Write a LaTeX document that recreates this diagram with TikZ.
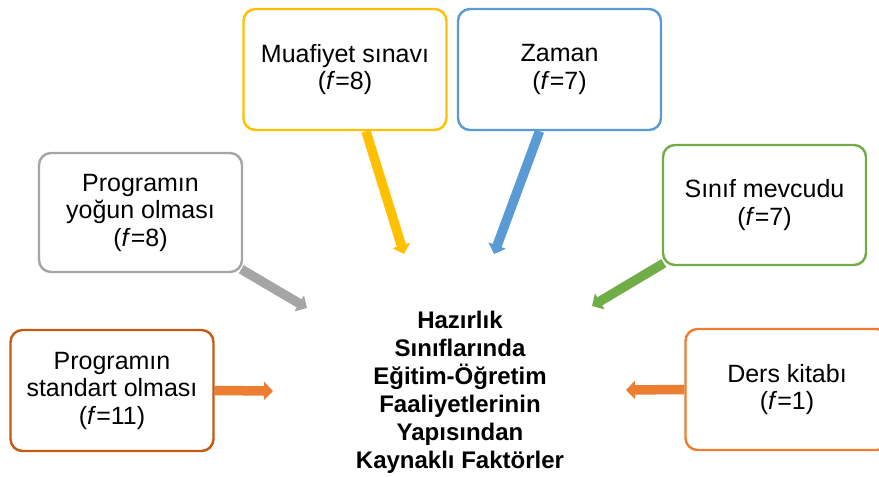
\documentclass[tikz,border=0pt]{standalone}
\usepackage{fontspec}
\setmainfont{Liberation Sans}
\usetikzlibrary{arrows.meta,backgrounds}

\definecolor{cOrangeDark}{HTML}{C55A11}
\definecolor{cOrange}{HTML}{ED7D31}
\definecolor{cGray}{HTML}{A5A5A5}
\definecolor{cYellow}{HTML}{FFC000}
\definecolor{cBlue}{HTML}{5B9BD5}
\definecolor{cGreen}{HTML}{70AD47}

\tikzset{
  factor/.style={draw=#1, fill=white, rectangle, rounded corners=12pt,
    line width=2.4pt, minimum width=203pt, minimum height=121pt,
    inner sep=0pt, align=center,
    font=\fontsize{25}{27.5}\selectfont},
  pointer/.style={draw=#1, line width=9.5pt,
    -{Triangle[width=18pt,length=9pt]}},
  topic/.style={align=center, inner sep=0pt,
    font=\fontsize{24}{28}\selectfont\bfseries}
}

\begin{document}
\begin{tikzpicture}[x=1pt,y=-1pt]
  \useasboundingbox (0,0) rectangle (879,477);
  \clip (0,0) rectangle (879,477);

  % central topic
  \node[topic] (topic) at (460,392)
    {Hazırlık\\Sınıflarında\\Eğitim-Öğretim\\Faaliyetlerinin\\Yapısından\\Kaynaklı Faktörler};

  % factor boxes
  \node[factor=cOrangeDark] (std) at (112,390.5)
    {Programın\\standart olması\\(\textit{f}=11)};
  \node[factor=cOrange] (book) at (787,389.5)
    {Ders kitabı\\(\textit{f}=1)};
  \node[factor=cGray, minimum height=119pt] (dense) at (140.5,212.5)
    {Programın\\yoğun olması\\(\textit{f}=8)};
  \node[factor=cYellow] (exam) at (345,69.5)
    {Muafiyet sınavı\\(\textit{f}=8)};
  \node[factor=cBlue] (time) at (559.5,69.5)
    {Zaman\\(\textit{f}=7)};
  \node[factor=cGreen, minimum height=120pt] (size) at (764.5,205)
    {Sınıf mevcudu\\(\textit{f}=7)};

  % arrow tips near the topic
  \coordinate (tStd)   at (273,391);
  \coordinate (tBook)  at (626,390);
  \coordinate (tDense) at (307,308);
  \coordinate (tExam)  at (404,254);
  \coordinate (tTime)  at (494,254);
  \coordinate (tSize)  at (592,306);

  \begin{pgfonlayer}{background}
    \draw[pointer=cOrange] (std.east) -- (tStd);
    \draw[pointer=cOrange] (book.west) -- (tBook);
    \draw[pointer=cGray]   ([xshift=-2pt,yshift=4pt]dense.south east) -- (tDense);
    \draw[pointer=cYellow] ([xshift=21pt]exam.south) -- (tExam);
    \draw[pointer=cBlue]   ([xshift=-20pt]time.south) -- (tTime);
    \draw[pointer=cGreen]  ([xshift=2pt,yshift=3pt]size.south west) -- (tSize);
  \end{pgfonlayer}
\end{tikzpicture}
\end{document}
